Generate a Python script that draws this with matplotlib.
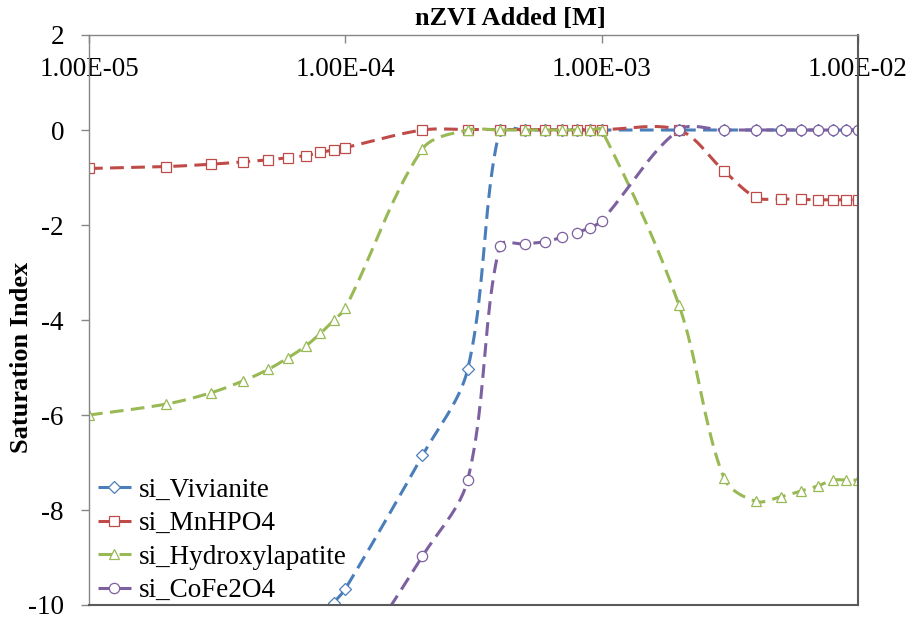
import numpy as np
import matplotlib
matplotlib.use("Agg")
import matplotlib.pyplot as plt
from matplotlib.ticker import FixedLocator, FuncFormatter, NullLocator

plt.rcParams["font.family"] = ["Liberation Serif", "DejaVu Serif"]

# nZVI dose [M]
nzvi = [1e-5, 2e-5, 3e-5, 4e-5, 5e-5, 6e-5, 7e-5, 8e-5, 9e-5,
        1e-4, 2e-4, 3e-4, 4e-4, 5e-4, 6e-4, 7e-4, 8e-4, 9e-4,
        1e-3, 2e-3, 3e-3, 4e-3, 5e-3, 6e-3, 7e-3, 8e-3, 9e-3, 1e-2]

# saturation indices (Vivianite and CoFe2O4 start lower, below the axis floor)
si_vivianite = [-9.95, -9.66, -6.85, -5.04, 0.0, 0.0, 0.0, 0.0, 0.0, 0.0,
                0.0, 0.0, 0.0, 0.0, 0.0, 0.0, 0.0, 0.0, 0.0, 0.0]
viv_x = nzvi[8:]

si_mnhpo4 = [-0.81, -0.77, -0.72, -0.67, -0.63, -0.58, -0.54, -0.47, -0.42,
             -0.37, 0.0, 0.01, 0.01, 0.01, 0.01, 0.01, 0.01, 0.01,
             0.01, 0.0, -0.86, -1.42, -1.45, -1.46, -1.47, -1.47, -1.47, -1.47]

si_hydroxylapatite = [-6.0, -5.77, -5.53, -5.28, -5.04, -4.79, -4.55, -4.28, -4.01,
                      -3.75, -0.4, 0.0, 0.0, 0.0, 0.0, 0.0, 0.0, 0.0,
                      0.0, -3.68, -7.33, -7.82, -7.72, -7.60, -7.49, -7.37, -7.37, -7.37]

si_cofe2o4 = [-11.5, -8.97, -7.37, -2.44, -2.40, -2.35, -2.26, -2.16, -2.06,
              -1.91, 0.0, 0.0, 0.0, 0.0, 0.0, 0.0, 0.0, 0.0, 0.0]
co_x = nzvi[9:]

labels = ["si_Vivianite", "si_MnHPO4", "si_Hydroxylapatite", "si_CoFe2O4"]
colors = ["#4A7EBB", "#BE4B48", "#98B954", "#7D60A0"]
markers = ["D", "s", "^", "o"]
msizes = [6.0, 7.2, 7.8, 7.4]

x_ticks = [1e-5, 1e-4, 1e-3, 1e-2]
y_ticks = [-10, -8, -6, -4, -2, 0, 2]

W, H = 915, 624
fig = plt.figure(figsize=(W / 100, H / 100), dpi=100)
ax_l, ax_r, ax_t, ax_b = 89, 858, 35, 605
ax = fig.add_axes([ax_l / W, 1 - ax_b / H, (ax_r - ax_l) / W, (ax_b - ax_t) / H])

xlim = (1e-5, 1e-2)
ylim = (-10, 2)
ppd = (ax_r - ax_l) / (np.log10(xlim[1]) - np.log10(xlim[0]))  # pixels per decade
ppu = (ax_b - ax_t) / (ylim[1] - ylim[0])                      # pixels per SI unit


def smooth(xs, ys, n=24):
    """Spline through the points with length-weighted Bezier tangents."""
    P = np.column_stack([np.log10(xs) * ppd, np.asarray(ys) * ppu])
    m = len(P)
    d = np.hypot(*np.diff(P, axis=0).T)
    out = [P[0]]
    t = np.linspace(0, 1, n)[1:, None]
    for i in range(m - 1):
        p0, p1 = P[i], P[i + 1]
        pm = P[i - 1] if i > 0 else P[i]
        pp = P[i + 2] if i + 2 < m else P[i + 1]
        dprev = d[i - 1] if i > 0 else d[i]
        dnext = d[i + 1] if i + 2 < m else d[i]
        c1 = p0 + (p1 - pm) * d[i] / (dprev + d[i]) / 3
        c2 = p1 - (pp - p0) * d[i] / (d[i] + dnext) / 3
        seg = ((1 - t) ** 3) * p0 + 3 * ((1 - t) ** 2) * t * c1 \
            + 3 * (1 - t) * t ** 2 * c2 + t ** 3 * p1
        out.extend(seg)
    out = np.array(out)
    return 10 ** (out[:, 0] / ppd), out[:, 1] / ppu


series = [(viv_x, si_vivianite), (nzvi, si_mnhpo4),
          (nzvi, si_hydroxylapatite), (co_x, si_cofe2o4)]

dash = (0, (4.5, 2.4))
lw = 2.2
handles = []
for (xs, ys), lab, c, mk, ms in zip(series, labels, colors, markers, msizes):
    sx, sy = smooth(xs, ys)
    ax.plot(sx, sy, color=c, lw=lw, linestyle=dash, solid_capstyle="butt",
            dash_capstyle="butt")
    ax.plot(xs, ys, linestyle="none", marker=mk, ms=ms, mfc="white", mec=c, mew=0.9)
    h, = ax.plot([], [], color=c, lw=lw, linestyle=dash, marker=mk, ms=ms,
                 mfc="white", mec=c, mew=0.9, dash_capstyle="butt")
    handles.append(h)

ax.set_xscale("log")
ax.set_xlim(*xlim)
ax.set_ylim(*ylim)

ax.xaxis.tick_top()
ax.xaxis.set_major_locator(FixedLocator(x_ticks))
ax.xaxis.set_minor_locator(NullLocator())
ax.xaxis.set_major_formatter(FuncFormatter(lambda v, p: f"{v:.2E}"))
ax.tick_params(axis="x", which="major", direction="in", length=6, width=1,
               color="#868686", labelsize=19.5, pad=-34)

ax.yaxis.set_major_locator(FixedLocator(y_ticks))
ax.yaxis.set_major_formatter(FuncFormatter(lambda v, p: f"{v:g}"))
ax.tick_params(axis="y", direction="out", length=6, width=1, color="#868686",
               labelsize=19.5, pad=12)

for side in ("top", "left"):
    ax.spines[side].set_color("#868686")
    ax.spines[side].set_linewidth(1.0)
for side in ("right", "bottom"):
    ax.spines[side].set_color("#5a5a5a")
    ax.spines[side].set_linewidth(1.5)

fig.text(510 / W, 1 - 19 / H, "nZVI Added [M]", ha="center", va="center",
         fontsize=19, fontweight="bold")
fig.text(22 / W, 1 - 357 / H, "Saturation Index", ha="center", va="center",
         rotation=90, fontsize=19, fontweight="bold")

ax.legend(handles, labels, loc="lower left", frameon=False, fontsize=19.5,
          handlelength=1.2, handletextpad=0.3, labelspacing=0.31,
          borderpad=0.0, borderaxespad=0.0,
          bbox_to_anchor=(9 / (ax_r - ax_l), 2 / (ax_b - ax_t)))

fig.savefig("out.png", dpi=100)
